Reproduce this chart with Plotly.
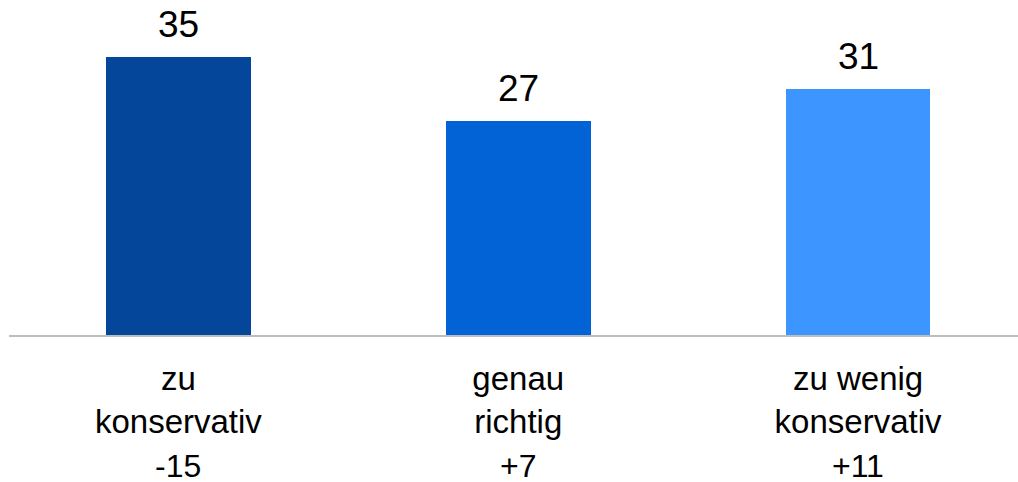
import plotly.graph_objects as go

categories = ["zu<br>konservativ", "genau<br>richtig", "zu wenig<br>konservativ"]
values = [35, 27, 31]
changes = ["-15", "+7", "+11"]
colors = ["#03469A", "#0263D7", "#3D95FF"]

FONT = "Liberation Sans, Arial, sans-serif"

fig = go.Figure()
fig.add_trace(go.Bar(
    x=list(range(len(categories))),
    y=values,
    width=0.426,
    marker=dict(color=colors, line=dict(width=0)),
    cliponaxis=False,
    hoverinfo="skip",
))

for i, v in enumerate(values):
    fig.add_annotation(
        x=i, y=v, xref="x", yref="y",
        text=str(v), showarrow=False,
        yanchor="bottom", yshift=10,
        font=dict(size=37, color="black", family=FONT),
    )

for i, c in enumerate(changes):
    fig.add_annotation(
        x=i, y=0, xref="x", yref="paper",
        text=c, showarrow=False,
        yanchor="top", yshift=-111,
        font=dict(size=32, color="black", family=FONT),
    )

fig.update_layout(
    width=1018, height=482,
    margin=dict(l=9, r=0, t=0, b=147),
    plot_bgcolor="white", paper_bgcolor="white",
    showlegend=False,
    bargap=0,
    xaxis=dict(
        range=[-0.4985, 2.4706],
        tickmode="array",
        tickvals=list(range(len(categories))),
        ticktext=categories,
        tickfont=dict(size=33, color="black", family=FONT),
        showline=True, linecolor="#BDBDBD", linewidth=2,
        showgrid=False, zeroline=False, ticks="",
        ticklabelstandoff=13,
    ),
    yaxis=dict(
        range=[0, 42.17],
        visible=False,
    ),
)

fig.write_html("out.html", config={"displayModeBar": False},
               post_script="document.body.style.margin='0';")
